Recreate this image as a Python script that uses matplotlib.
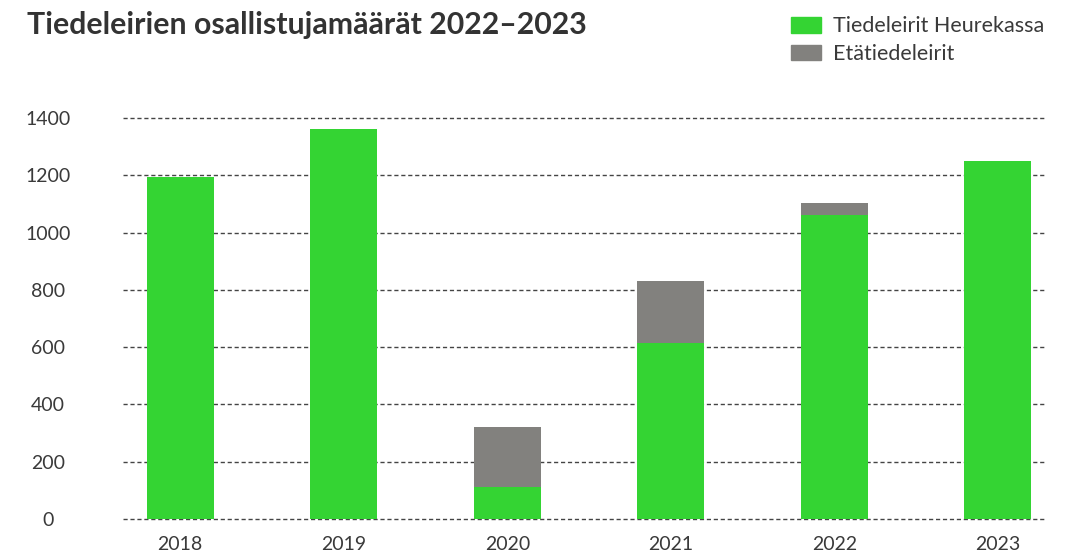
import matplotlib.pyplot as plt
from matplotlib.patches import Patch

plt.rcParams["font.family"] = ["Lato", "DejaVu Sans"]

# Data
years = ["2018", "2019", "2020", "2021", "2022", "2023"]
heureka = [1195, 1360, 112, 613, 1062, 1250]
eta = [0, 0, 208, 217, 40, 0]
yticks = [0, 200, 400, 600, 800, 1000, 1200, 1400]

green = "#34D433"
gray = "#82817E"
text_col = "#3A3A3A"

fig = plt.figure(figsize=(10.82, 5.58), dpi=100)
ax = fig.add_axes([123 / 1082, 1 - 521.9 / 558, 924 / 1082, (521.9 - 115.1) / 558])

x = list(range(len(years)))
ax.bar(x, heureka, width=0.41, color=green, zorder=2)
ax.bar(x, eta, width=0.41, bottom=heureka, color=gray, zorder=2)

ax.set_xlim(-0.35, 5.30)
ax.set_ylim(-10, 1410)
ax.set_yticks(yticks)
ax.set_xticks(x)
ax.set_xticklabels(years)
ax.grid(axis="y", linestyle=(0, (3, 2)), color="#444444", linewidth=1, zorder=1)
for s in ax.spines.values():
    s.set_visible(False)

ax.tick_params(axis="y", length=0, pad=54, labelsize=14, labelcolor=text_col)
ax.tick_params(axis="x", length=0, pad=10, labelsize=14, labelcolor=text_col)
for lab in ax.get_yticklabels():
    lab.set_horizontalalignment("center")

fig.text(27 / 1082, 1 - 25 / 558, "Tiedeleirien osallistujamäärät 2022–2023",
         fontsize=21.8, fontweight="bold", color="#333333", va="center", ha="left")

handles = [Patch(color=green, label="Tiedeleirit Heurekassa"),
           Patch(color=gray, label="Etätiedeleirit")]
fig.legend(handles=handles, loc="upper left", bbox_to_anchor=(771.5 / 1082, 1 + 3 / 558),
           frameon=False, fontsize=15.5, labelcolor=text_col,
           handlelength=1.4, handleheight=0.74, handletextpad=0.56, labelspacing=0.35)

fig.savefig("out.png", dpi=100)
